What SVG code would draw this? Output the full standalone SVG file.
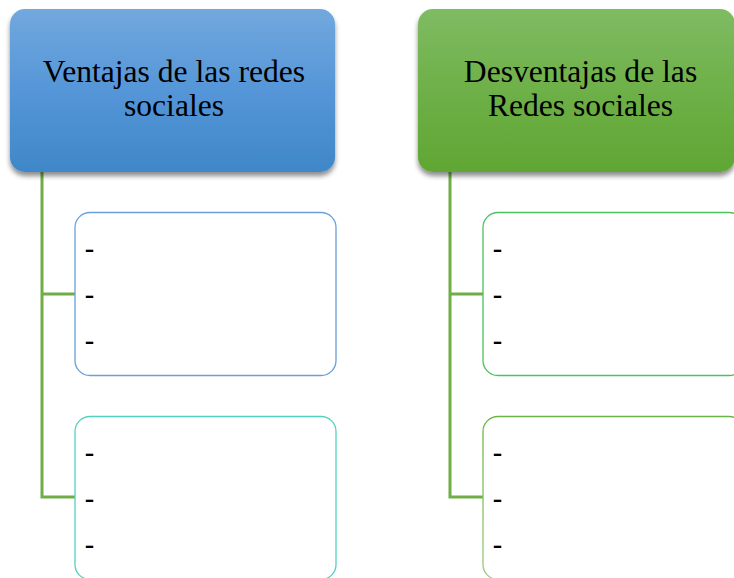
<svg xmlns="http://www.w3.org/2000/svg" width="734" height="578" viewBox="0 0 734 578">
<defs>
<linearGradient id="gBlue" x1="0" y1="0" x2="0" y2="1">
<stop offset="0" stop-color="#72a8dd"/>
<stop offset="0.5" stop-color="#5596d8"/>
<stop offset="1" stop-color="#3f87c8"/>
</linearGradient>
<linearGradient id="gGreen" x1="0" y1="0" x2="0" y2="1">
<stop offset="0" stop-color="#7fbb62"/>
<stop offset="0.5" stop-color="#6eb048"/>
<stop offset="1" stop-color="#60a633"/>
</linearGradient>
<linearGradient id="gLight" x1="0" y1="0" x2="0" y2="1">
<stop offset="0" stop-color="#6cb544"/>
<stop offset="1" stop-color="#9cca80"/>
</linearGradient>
<filter id="sh" x="-10%" y="-10%" width="120%" height="130%">
<feDropShadow dx="0" dy="4" stdDeviation="2.5" flood-color="#000" flood-opacity="0.45"/>
</filter>
</defs>
<style>
.hdr{font-family:"Liberation Serif","Times New Roman",serif;font-size:31.6px;fill:#000;text-anchor:middle}
.dash{font-family:"Liberation Sans",Arial,sans-serif;font-size:30px;fill:#000}
.conn{fill:none;stroke:#70ad47;stroke-width:3}
.box{fill:#fff;stroke-width:1.3}
</style>
<g id="connectors">
<path class="conn" d="M42 172 V497 H75 M42 294 H75"/>
<path class="conn" d="M450 172 V497 H483 M450 294 H483"/>
</g>
<g id="hdr-ventajas">
<rect x="10" y="9" width="325" height="163" rx="15" fill="url(#gBlue)" filter="url(#sh)"/>
<text class="hdr" x="174" y="82.3">Ventajas de las redes</text>
<text class="hdr" x="174" y="115.7">sociales</text>
</g>
<g id="hdr-desventajas">
<rect x="418" y="9" width="317" height="163" rx="15" fill="url(#gGreen)" filter="url(#sh)"/>
<text class="hdr" x="580.5" y="82.3">Desventajas de las</text>
<text class="hdr" x="580.5" y="115.7">Redes sociales</text>
</g>
<g id="box-v1">
<rect class="box" x="75" y="212.5" width="261" height="163" rx="15" stroke="#6a9fd8"/>
<text class="dash" x="84.5" y="259">-</text>
<text class="dash" x="84.5" y="305">-</text>
<text class="dash" x="84.5" y="350.5">-</text>
</g>
<g id="box-v2">
<rect class="box" x="75" y="416.5" width="261" height="163" rx="15" stroke="#55d0c0"/>
<text class="dash" x="84.5" y="463">-</text>
<text class="dash" x="84.5" y="509">-</text>
<text class="dash" x="84.5" y="554.5">-</text>
</g>
<g id="box-d1">
<rect class="box" x="483" y="212.5" width="261" height="163" rx="15" stroke="#4cc15e"/>
<text class="dash" x="492.5" y="259">-</text>
<text class="dash" x="492.5" y="305">-</text>
<text class="dash" x="492.5" y="350.5">-</text>
</g>
<g id="box-d2">
<rect class="box" x="483" y="416.5" width="261" height="163" rx="15" stroke="url(#gLight)"/>
<text class="dash" x="492.5" y="463">-</text>
<text class="dash" x="492.5" y="509">-</text>
<text class="dash" x="492.5" y="554.5">-</text>
</g>
</svg>
